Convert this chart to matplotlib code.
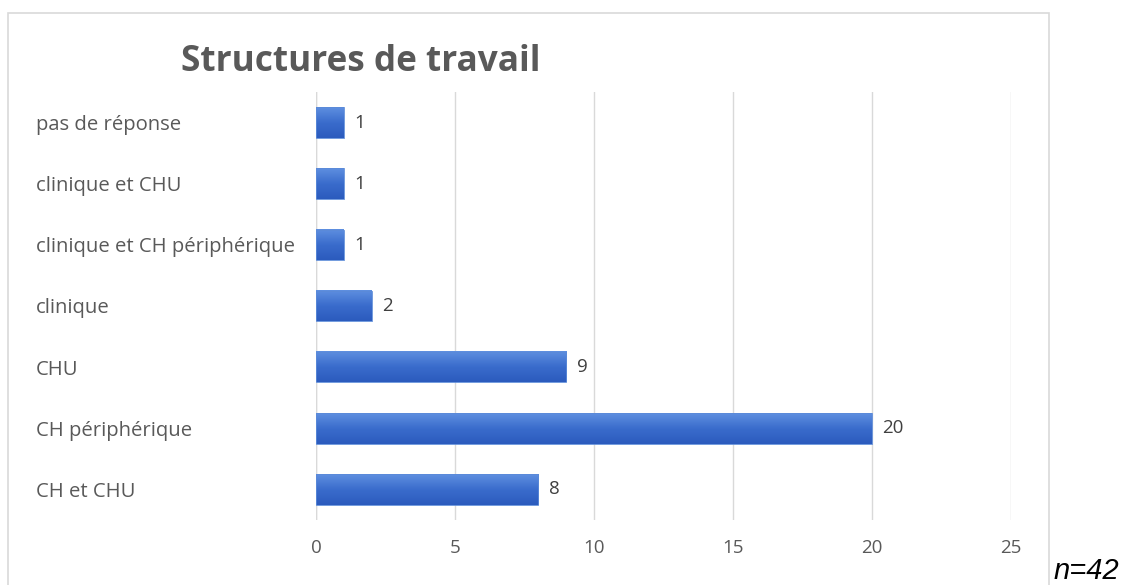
import matplotlib.pyplot as plt
import numpy as np
from matplotlib.colors import LinearSegmentedColormap
from matplotlib.patches import Rectangle

# Survey answers: where respondents work (n=42)
categories = ['CH et CHU', 'CH périphérique', 'CHU', 'clinique',
              'clinique et CH périphérique', 'clinique et CHU', 'pas de réponse']
counts = [8, 20, 9, 2, 1, 1, 1]
x_ticks = [0, 5, 10, 15, 20, 25]

plt.rcParams['font.family'] = ['Open Sans', 'DejaVu Sans']
text_grey = '#595959'

fig = plt.figure(figsize=(11.3, 5.85), dpi=100)
W, H = 1130, 585
ax = fig.add_axes([316 / W, 1 - 520 / H, (1011 - 316) / W, (520 - 92) / H])

# chart frame
fig.patches.append(Rectangle((8 / W, 1 - 590 / H), (1049 - 8) / W, (590 - 13) / H,
                             transform=fig.transFigure, fill=False,
                             edgecolor='#d9d9d9', linewidth=1.2))

# vertical gradient for the bars (light on top, darker below)
grad_cmap = LinearSegmentedColormap.from_list('bar', ['#2b5bbd', '#3a6ccc', '#5e8fe0'])
gradient = np.linspace(0, 1, 64).reshape(-1, 1)

bar_h = 0.5
y_pos = np.arange(len(categories))
bars = ax.barh(y_pos, counts, height=bar_h, color='none', edgecolor='#5b8ad8', linewidth=0.6, zorder=3)
for bar, val in zip(bars, counts):
    x0, y0 = bar.get_x(), bar.get_y()
    ax.imshow(gradient, extent=(x0, x0 + bar.get_width(), y0, y0 + bar.get_height()),
              cmap=grad_cmap, aspect='auto', origin='lower', zorder=2)
    ax.text(val + 0.38, y0 + bar_h / 2, str(val), va='center', ha='left',
            fontsize=13.5, color='#404040')

ax.set_xlim(0, 25)
ax.set_ylim(-0.5, len(categories) - 0.5)
ax.set_xticks(x_ticks)
ax.set_xticklabels([str(t) for t in x_ticks], fontsize=13.5, color=text_grey)
ax.set_yticks(y_pos)
ax.set_yticklabels(categories, fontsize=14.6, color=text_grey)
for lbl in ax.get_yticklabels():
    lbl.set_horizontalalignment('left')
ax.tick_params(axis='y', length=0, pad=(316 - 36) * 0.72)
ax.tick_params(axis='x', length=0, pad=14)
ax.grid(axis='x', color='#d9d9d9', linewidth=1.0, zorder=0)
for s in ax.spines.values():
    s.set_visible(False)
ax.axvline(0, color='#d9d9d9', linewidth=1.0, zorder=1)

fig.text(361 / W, 1 - 62 / H, 'Structures de travail', ha='center', va='center',
         fontsize=25.3, fontweight='bold', color=text_grey)
fig.text(1054 / W, 1 - 579 / H, 'n=42', ha='left', va='baseline',
         fontsize=21, style='italic', color='black', family='Liberation Sans')

fig.savefig('out.png', dpi=100)
